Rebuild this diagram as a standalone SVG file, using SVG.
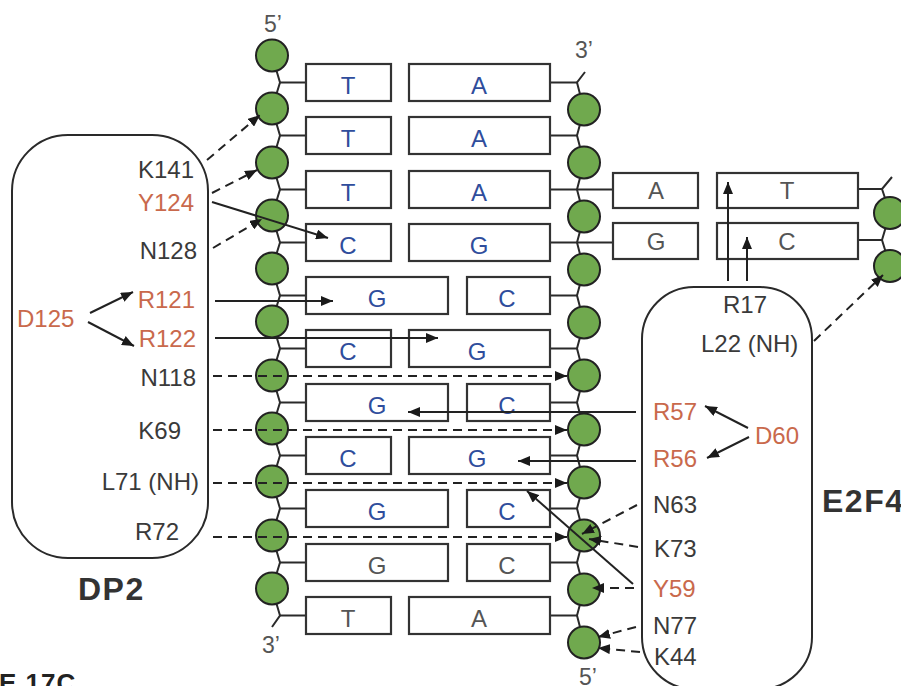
<svg xmlns="http://www.w3.org/2000/svg" width="901" height="686" viewBox="0 0 901 686">
<defs>
<style>
.bb{fill:none;stroke:#2a2a2a;stroke-width:2}
.nt{fill:#70a94e;stroke:#222;stroke-width:2}
.box{fill:#fff;stroke:#333;stroke-width:2.2}
.cn{stroke:#2a2a2a;stroke-width:2;fill:none}
.t{font-family:"Liberation Sans",Arial,sans-serif}
.b{font-size:24px;fill:#2f4d9c;text-anchor:middle}
.bg{font-size:24px;fill:#555;text-anchor:middle}
.lb{font-size:24px;fill:#3a3a3a}
.or{fill:#c9694c}
.end{text-anchor:end}
.end5{font-size:23px;fill:#555;text-anchor:middle}
.title{font-size:32px;font-weight:bold;fill:#333;letter-spacing:1.5px}
.sol{stroke:#222;stroke-width:2;fill:none;marker-end:url(#ah)}
.dsh{stroke:#222;stroke-width:2;fill:none;stroke-dasharray:9 6;marker-end:url(#ah)}
.prot{fill:none;stroke:#2a2a2a;stroke-width:2}
</style>
<marker id="ah" markerUnits="userSpaceOnUse" markerWidth="13" markerHeight="10" refX="12" refY="5" orient="auto"><path d="M0,0 L12,5 L0,10 z" fill="#1a1a1a"/></marker>
</defs>
<rect width="901" height="686" fill="#fff"/>

<g id="dp2">
<rect class="prot" x="12" y="135" width="196" height="423" rx="56"/>
<text class="t title" x="78" y="600">DP2</text>
<text class="t lb end" x="194" y="178">K141</text>
<text class="t lb end or" x="194" y="211">Y124</text>
<text class="t lb end" x="197" y="259">N128</text>
<text class="t lb end or" x="195" y="308">R121</text>
<text class="t lb or" x="17" y="327">D125</text>
<text class="t lb end or" x="196" y="347">R122</text>
<text class="t lb end" x="196" y="386">N118</text>
<text class="t lb end" x="181" y="439">K69</text>
<text class="t lb end" x="199" y="490">L71 (NH)</text>
<text class="t lb end" x="179" y="540">R72</text>
</g>

<g id="e2f4">
<rect class="prot" x="642" y="287" width="170" height="402" rx="52"/>
<text class="t title" x="822" y="512">E2F4</text>
<text class="t lb" x="723" y="313">R17</text>
<text class="t lb" x="701" y="352">L22 (NH)</text>
<text class="t lb or" x="653" y="420">R57</text>
<text class="t lb or" x="755" y="444">D60</text>
<text class="t lb or" x="653" y="467">R56</text>
<text class="t lb" x="653" y="513">N63</text>
<text class="t lb" x="654" y="557">K73</text>
<text class="t lb or" x="653" y="597">Y59</text>
<text class="t lb" x="653" y="634">N77</text>
<text class="t lb" x="654" y="665">K44</text>
</g>

<g id="dna-main">
<polyline class="bb" points="272,55.5 280,82.5 272,108.5 280,135.5 272,162.5 280,189.5 272,215.5 280,242.5 272,268.5 280,295.5 272,321.5 280,348.5 272,375.5 280,402.5 272,428.5 280,455.5 272,481.5 280,508.5 272,535.5 280,562.5 272,588.5 280,615.5 272,627"/>
<polyline class="bb" points="585,72 577,82.5 584,109.5 577,135.5 584,162.5 577,189.5 584,216.5 577,242.5 584,269.5 577,295.5 584,322.5 577,348.5 584,375.5 577,402.5 584,429.5 577,455.5 584,482.5 577,508.5 584,535.5 577,562.5 584,589.5 577,615.5 584,642.5"/>
<g class="cn">
<path d="M280,82.5H306M280,135.5H306M280,189.5H306M280,242.5H306M280,295.5H306M280,348.5H306M280,402.5H306M280,455.5H306M280,508.5H306M280,562.5H306M280,615.5H306"/>
<path d="M550,82.5H577M550,135.5H577M550,189.5H613M550,242.5H613M550,295.5H577M550,348.5H577M550,402.5H577M550,455.5H577M550,508.5H577M550,562.5H577M550,615.5H577"/>
</g>
<g>
<circle class="nt" cx="272" cy="55.5" r="16"/><circle class="nt" cx="272" cy="108.5" r="16"/><circle class="nt" cx="272" cy="162.5" r="16"/><circle class="nt" cx="272" cy="215.5" r="16"/><circle class="nt" cx="272" cy="268.5" r="16"/><circle class="nt" cx="272" cy="321.5" r="16"/><circle class="nt" cx="272" cy="375.5" r="16"/><circle class="nt" cx="272" cy="428.5" r="16"/><circle class="nt" cx="272" cy="481.5" r="16"/><circle class="nt" cx="272" cy="535.5" r="16"/><circle class="nt" cx="272" cy="588.5" r="16"/>
<circle class="nt" cx="584" cy="109.5" r="16"/><circle class="nt" cx="584" cy="162.5" r="16"/><circle class="nt" cx="584" cy="216.5" r="16"/><circle class="nt" cx="584" cy="269.5" r="16"/><circle class="nt" cx="584" cy="322.5" r="16"/><circle class="nt" cx="584" cy="375.5" r="16"/><circle class="nt" cx="584" cy="429.5" r="16"/><circle class="nt" cx="584" cy="482.5" r="16"/><circle class="nt" cx="584" cy="535.5" r="16"/><circle class="nt" cx="584" cy="589.5" r="16"/><circle class="nt" cx="584" cy="642.5" r="16"/>
</g>
<g>
<rect class="box" x="306" y="64" width="85" height="37"/><rect class="box" x="409" y="64" width="141" height="37"/>
<rect class="box" x="306" y="117" width="85" height="37"/><rect class="box" x="409" y="117" width="141" height="37"/>
<rect class="box" x="306" y="171" width="85" height="37"/><rect class="box" x="409" y="171" width="141" height="37"/>
<rect class="box" x="306" y="224" width="85" height="37"/><rect class="box" x="409" y="224" width="141" height="37"/>
<rect class="box" x="306" y="277" width="142" height="37"/><rect class="box" x="467" y="277" width="83" height="37"/>
<rect class="box" x="306" y="330" width="85" height="37"/><rect class="box" x="409" y="330" width="141" height="37"/>
<rect class="box" x="306" y="384" width="142" height="37"/><rect class="box" x="467" y="384" width="83" height="37"/>
<rect class="box" x="306" y="437" width="85" height="37"/><rect class="box" x="409" y="437" width="141" height="37"/>
<rect class="box" x="306" y="490" width="142" height="37"/><rect class="box" x="467" y="490" width="83" height="37"/>
<rect class="box" x="306" y="544" width="142" height="37"/><rect class="box" x="467" y="544" width="83" height="37"/>
<rect class="box" x="306" y="597" width="85" height="37"/><rect class="box" x="409" y="597" width="141" height="37"/>
</g>
<g class="t">
<text class="b" x="348" y="94">T</text><text class="b" x="479" y="94">A</text>
<text class="b" x="348" y="147">T</text><text class="b" x="479" y="147">A</text>
<text class="b" x="348" y="201">T</text><text class="b" x="479" y="201">A</text>
<text class="b" x="348" y="254">C</text><text class="b" x="479" y="254">G</text>
<text class="b" x="377" y="307">G</text><text class="b" x="507" y="307">C</text>
<text class="b" x="348" y="360">C</text><text class="b" x="477" y="360">G</text>
<text class="b" x="377" y="414">G</text><text class="b" x="507" y="414">C</text>
<text class="b" x="348" y="467">C</text><text class="b" x="477" y="467">G</text>
<text class="b" x="377" y="520">G</text><text class="b" x="507" y="520">C</text>
<text class="bg" x="377" y="574">G</text><text class="bg" x="507" y="574">C</text>
<text class="bg" x="348" y="627">T</text><text class="bg" x="479" y="627">A</text>
<text class="end5" x="273" y="32">5’</text>
<text class="end5" x="584" y="58">3’</text>
<text class="end5" x="271" y="653">3’</text>
<text class="end5" x="588" y="685">5’</text>
</g>
</g>

<g id="dna-side">
<polyline class="bb" points="892,177 882,189 890,213 882,240 890,266"/>
<path class="cn" d="M858,189H882M858,240H882"/>
<circle class="nt" cx="890" cy="213" r="16"/>
<circle class="nt" cx="890" cy="266" r="16"/>
<rect class="box" x="613" y="173" width="85" height="35"/>
<rect class="box" x="717" y="173" width="141" height="35"/>
<rect class="box" x="613" y="223" width="85" height="36"/>
<rect class="box" x="717" y="223" width="141" height="36"/>
<g class="t">
<text class="bg" x="656" y="199">A</text><text class="bg" x="787" y="199">T</text>
<text class="bg" x="656" y="250">G</text><text class="bg" x="787" y="250">C</text>
</g>
</g>

<g id="connectors">
<path class="sol" d="M90,313 L133,292"/>
<path class="sol" d="M88,322 L134,346"/>
<path class="sol" d="M212,202 L328,238"/>
<path class="sol" d="M215,301 L333,301"/>
<path class="sol" d="M215,338 L438,338"/>
<path class="sol" d="M728,281 L728,182"/>
<path class="sol" d="M747,281 L747,237"/>
<path class="sol" d="M748,428 L705,406"/>
<path class="sol" d="M749,437 L707,458"/>
<path class="sol" d="M636,412 L408,412"/>
<path class="sol" d="M636,461 L518,461"/>
<path class="sol" d="M633,584 L527,491"/>
<path class="dsh" d="M207,160 L260,115"/>
<path class="dsh" d="M212,193 L257,170"/>
<path class="dsh" d="M213,248 L262,219"/>
<path class="dsh" d="M213,376 L567,376"/>
<path class="dsh" d="M213,430 L567,430"/>
<path class="dsh" d="M213,483 L567,483"/>
<path class="dsh" d="M213,537 L567,537"/>
<path class="dsh" d="M814,341 L883,275"/>
<path class="dsh" d="M637,505 L582,534"/>
<path class="dsh" d="M638,547 L589,539"/>
<path class="dsh" d="M634,588 L592,588"/>
<path class="dsh" d="M636,627 L598,637"/>
<path class="dsh" d="M640,652 L598,648"/>
</g>

<text class="t" x="-1" y="692" font-size="26" font-weight="bold" fill="#222" letter-spacing="1">E 17C</text>
</svg>
